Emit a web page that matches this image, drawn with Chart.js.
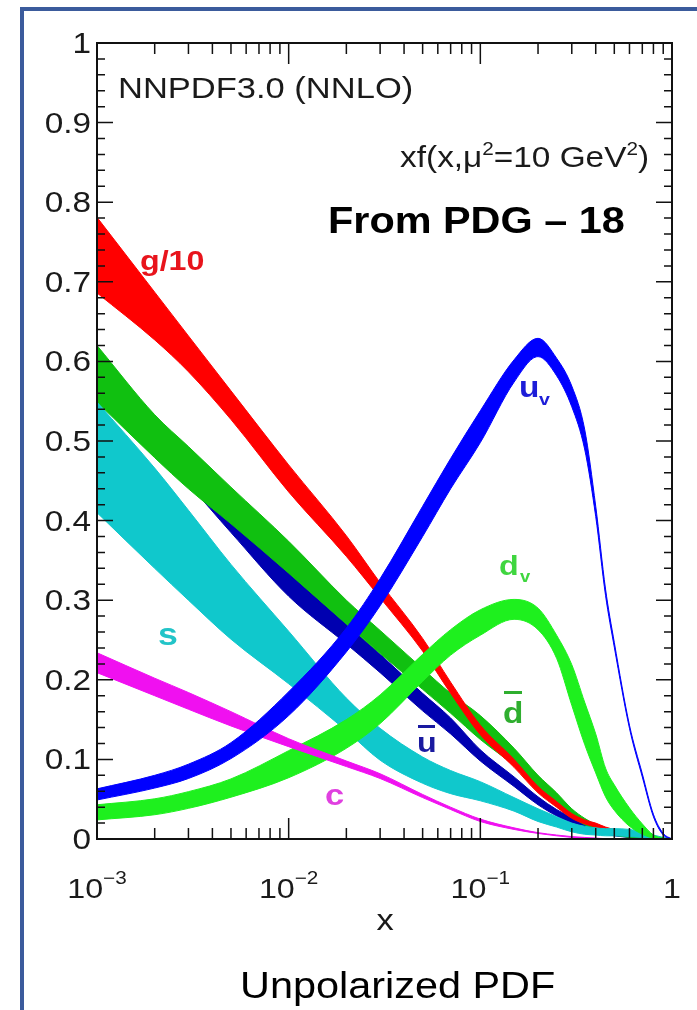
<!DOCTYPE html>
<html>
<head>
<meta charset="utf-8">
<title>NNPDF3.0 (NNLO) unpolarized PDFs</title>
<script src="https://cdn.jsdelivr.net/npm/chart.js@4.4.1/dist/chart.umd.min.js"></script>
<style>
  body { margin: 0; background: #fff; }
  canvas { display: block; }
</style>
</head>
<body>
<canvas id="pdf-chart" width="697" height="1010"></canvas>
<script>
// x grid shared by every band
const xValues = [0.001, 0.002, 0.003, 0.005, 0.01, 0.02, 0.03, 0.05, 0.07, 0.1, 0.15, 0.2, 0.25, 0.3, 0.35, 0.4, 0.45, 0.5, 0.6, 0.7, 0.8, 0.9, 1];

// each PDF is a band: lower and upper edge of xf(x)
const gLow     = [0.686, 0.627, 0.587, 0.527, 0.436, 0.355, 0.303, 0.236, 0.183, 0.131, 0.090, 0.058, 0.040, 0.026, 0.019, 0.015, 0.011, 0.009, 0.005, 0.0025, 0.0012, 0.0003, 0];
const gHigh    = [0.781, 0.687, 0.632, 0.563, 0.470, 0.381, 0.322, 0.252, 0.197, 0.143, 0.100, 0.066, 0.047, 0.032, 0.024, 0.020, 0.015, 0.012, 0.008, 0.0045, 0.0022, 0.0008, 0];
const dbarLow  = [0.549, 0.479, 0.440, 0.396, 0.334, 0.270, 0.233, 0.188, 0.158, 0.125, 0.092, 0.062, 0.045, 0.028, 0.018, 0.012, 0.008, 0.005, 0.002, 0.001, 0, 0, 0];
const dbarHigh = [0.620, 0.533, 0.493, 0.442, 0.374, 0.300, 0.262, 0.214, 0.183, 0.155, 0.114, 0.080, 0.058, 0.038, 0.026, 0.018, 0.012, 0.008, 0.004, 0.002, 0.001, 0, 0];
const ubarLow  = [0.556, 0.485, 0.445, 0.385, 0.305, 0.245, 0.209, 0.161, 0.132, 0.098, 0.066, 0.043, 0.029, 0.020, 0.013, 0.009, 0.006, 0.004, 0.002, 0.001, 0, 0, 0];
const ubarHigh = [0.605, 0.525, 0.485, 0.415, 0.336, 0.270, 0.232, 0.183, 0.152, 0.112, 0.078, 0.053, 0.037, 0.027, 0.019, 0.014, 0.010, 0.007, 0.003, 0.0015, 0.0005, 0, 0];
const sLow     = [0.410, 0.340, 0.300, 0.251, 0.195, 0.136, 0.099, 0.070, 0.057, 0.048, 0.035, 0.022, 0.015, 0.009, 0.006, 0.005, 0.004, 0.004, 0.003, 0.002, 0.001, 0, 0];
const sHigh    = [0.549, 0.466, 0.413, 0.345, 0.261, 0.177, 0.139, 0.103, 0.086, 0.072, 0.052, 0.038, 0.028, 0.020, 0.016, 0.014, 0.013, 0.013, 0.012, 0.009, 0.005, 0.002, 0];
const cLow     = [0.209, 0.180, 0.163, 0.142, 0.116, 0.091, 0.076, 0.052, 0.037, 0.022, 0.012, 0.007, 0.004, 0.002, 0.001, 0.001, 0, 0, 0, 0, 0, 0, 0];
const cHigh    = [0.234, 0.202, 0.184, 0.160, 0.126, 0.098, 0.082, 0.056, 0.040, 0.025, 0.014, 0.008, 0.005, 0.003, 0.002, 0.001, 0.0005, 0, 0, 0, 0, 0, 0];
const uvLow    = [0.049, 0.064, 0.076, 0.101, 0.155, 0.235, 0.293, 0.380, 0.440, 0.498, 0.574, 0.606, 0.582, 0.543, 0.490, 0.405, 0.306, 0.241, 0.139, 0.078, 0.028, 0.005, 0];
const uvHigh   = [0.063, 0.080, 0.094, 0.121, 0.185, 0.265, 0.327, 0.418, 0.478, 0.538, 0.602, 0.629, 0.604, 0.569, 0.515, 0.418, 0.314, 0.247, 0.143, 0.082, 0.031, 0.007, 0];
const dvLow    = [0.024, 0.0305, 0.0385, 0.0525, 0.077, 0.114, 0.145, 0.198, 0.231, 0.256, 0.276, 0.263, 0.227, 0.168, 0.119, 0.083, 0.053, 0.036, 0.016, 0.006, 0.001, 0, 0];
const dvHigh   = [0.043, 0.0505, 0.0595, 0.0755, 0.111, 0.150, 0.181, 0.232, 0.263, 0.288, 0.301, 0.290, 0.256, 0.219, 0.172, 0.132, 0.089, 0.068, 0.039, 0.019, 0.005, 0.001, 0];

// axis ticks
const yTickValues = [0, 0.1, 0.2, 0.3, 0.4, 0.5, 0.6, 0.7, 0.8, 0.9, 1];
const yTickLabels = ['0', '0.1', '0.2', '0.3', '0.4', '0.5', '0.6', '0.7', '0.8', '0.9', '1'];
const xTickValues = [0.001, 0.01, 0.1, 1];
const xTickBase = ['10', '10', '10', '1'];
const xTickExp = ['\u22123', '\u22122', '\u22121', ''];

const FONT = '"Liberation Sans", Arial, Helvetica, sans-serif';
const STRETCH = 1.15; // the original picture is a bit wider than tall

function band(name, low, high, color) {
  const toPoints = arr => arr.map((v, i) => ({ x: xValues[i], y: v }));
  return [
    { label: name + ' low', data: toPoints(low), borderColor: color, backgroundColor: color, borderWidth: 1, fill: false },
    { label: name + ' high', data: toPoints(high), borderColor: color, backgroundColor: color, borderWidth: 1, fill: '-1' }
  ];
}

// first dataset is drawn on top
const datasets = [
  ...band('uv', uvLow, uvHigh, '#0000ff'),
  ...band('c', cLow, cHigh, '#f010f0'),
  ...band('dv', dvLow, dvHigh, '#1ef01e'),
  ...band('s', sLow, sHigh, '#10c8cc'),
  ...band('g/10', gLow, gHigh, '#ff0000'),
  ...band('dbar', dbarLow, dbarHigh, '#10c010'),
  ...band('ubar', ubarLow, ubarHigh, '#0000b0')
];

function drawText(ctx, str, x, y, font, color, align) {
  ctx.save();
  ctx.font = font;
  ctx.fillStyle = color;
  ctx.textAlign = align || 'left';
  ctx.textBaseline = 'alphabetic';
  ctx.translate(x, y);
  ctx.scale(STRETCH, 1);
  ctx.fillText(str, 0, 0);
  ctx.restore();
}

function textWidth(ctx, str, font) {
  ctx.font = font;
  return ctx.measureText(str).width * STRETCH;
}

const framePlugin = {
  id: 'framePlugin',
  afterDraw(chart) {
    const ctx = chart.ctx;
    const xs = chart.scales.x;
    const ys = chart.scales.y;
    const a = chart.chartArea;

    ctx.save();
    // slide border
    ctx.strokeStyle = '#3b5b9c';
    ctx.lineWidth = 4;
    ctx.beginPath();
    ctx.moveTo(22, 1010);
    ctx.lineTo(22, 9);
    ctx.lineTo(697, 9);
    ctx.stroke();

    // plot box
    ctx.strokeStyle = '#111';
    ctx.lineWidth = 2;
    ctx.strokeRect(a.left, a.top, a.right - a.left, a.bottom - a.top);

    // inward ticks
    ctx.lineWidth = 1.5;
    ctx.beginPath();
    for (let i = 0; i <= 50; i++) {
      const py = ys.getPixelForValue(i / 50);
      const len = i % 5 === 0 ? 16 : 8;
      ctx.moveTo(a.left, py); ctx.lineTo(a.left + len, py);
      ctx.moveTo(a.right, py); ctx.lineTo(a.right - len, py);
    }
    [0.001, 0.01, 0.1].forEach(dec => {
      for (let m = 1; m <= 9; m++) {
        const px = xs.getPixelForValue(dec * m);
        const len = m === 1 ? 21 : 11;
        ctx.moveTo(px, a.bottom); ctx.lineTo(px, a.bottom - len);
        ctx.moveTo(px, a.top); ctx.lineTo(px, a.top + len);
      }
    });
    ctx.stroke();
    ctx.restore();

    // y tick labels
    const tickFont = '29px ' + FONT;
    yTickValues.forEach((v, i) => {
      drawText(ctx, yTickLabels[i], 91, ys.getPixelForValue(v) + 10, tickFont, '#1a1a1a', 'right');
    });

    // x tick labels with superscript exponent
    const baseFont = '28px ' + FONT;
    const expFont = '18px ' + FONT;
    xTickValues.forEach((v, i) => {
      const px = xs.getPixelForValue(v);
      const wb = textWidth(ctx, xTickBase[i], baseFont);
      const we = xTickExp[i] ? textWidth(ctx, xTickExp[i], expFont) : 0;
      const start = px - (wb + we) / 2;
      drawText(ctx, xTickBase[i], start, 898, baseFont, '#1a1a1a');
      if (xTickExp[i]) drawText(ctx, xTickExp[i], start + wb, 884, expFont, '#1a1a1a');
    });
    drawText(ctx, 'x', 385, 930, '30px ' + FONT, '#1a1a1a', 'center');

    // header texts
    drawText(ctx, 'NNPDF3.0 (NNLO)', 118, 98, '30px ' + FONT, '#1a1a1a');
    const f1 = '29px ' + FONT, f2 = '18px ' + FONT;
    const parts = [['xf(x,\u03bc', f1, 0], ['2', f2, -12], ['=10 GeV', f1, 0], ['2', f2, -12], [')', f1, 0]];
    let total = 0;
    parts.forEach(p => { total += textWidth(ctx, p[0], p[1]); });
    let cx = 649 - total;
    parts.forEach(p => {
      drawText(ctx, p[0], cx, 167 + p[2], p[1], '#1a1a1a');
      cx += textWidth(ctx, p[0], p[1]);
    });
    drawText(ctx, 'From PDG \u2013 18', 328, 233, 'bold 36px ' + FONT, '#000');

    // curve labels
    drawText(ctx, 'g/10', 140, 270, 'bold 28px ' + FONT, '#e8141c');
    drawText(ctx, 's', 158, 645, 'bold 31px ' + FONT, '#22c4c8');
    drawText(ctx, 'c', 325, 805, 'bold 30px ' + FONT, '#e040e0');
    drawText(ctx, 'u', 417, 752, 'bold 28px ' + FONT, '#1a1aa0');
    ctx.fillStyle = '#1a1aa0';
    ctx.fillRect(418, 725, 17, 3);
    drawText(ctx, 'd', 503, 723, 'bold 29px ' + FONT, '#2fae2f');
    ctx.fillStyle = '#2fae2f';
    ctx.fillRect(504, 691, 18, 3);
    drawText(ctx, 'u', 519, 397, 'bold 29px ' + FONT, '#1d1dd8');
    drawText(ctx, 'v', 539, 405, 'bold 17px ' + FONT, '#1d1dd8');
    drawText(ctx, 'd', 499, 575, 'bold 28px ' + FONT, '#3fd63f');
    drawText(ctx, 'v', 520, 582, 'bold 16px ' + FONT, '#3fd63f');

    // caption under the plot
    drawText(ctx, 'Unpolarized PDF', 240, 998, '36px ' + FONT, '#000');
  }
};

const ctx = document.getElementById('pdf-chart').getContext('2d');
new Chart(ctx, {
  type: 'line',
  data: { datasets },
  options: {
    responsive: false,
    animation: false,
    layout: { padding: { left: 97, top: 43, right: 25, bottom: 171 } },
    elements: {
      point: { radius: 0 },
      line: { cubicInterpolationMode: 'monotone' }
    },
    plugins: {
      legend: { display: false },
      tooltip: { enabled: false }
    },
    scales: {
      x: { type: 'logarithmic', min: 0.001, max: 1, display: false },
      y: { type: 'linear', min: 0, max: 1, display: false }
    }
  },
  plugins: [framePlugin]
});
</script>
</body>
</html>
